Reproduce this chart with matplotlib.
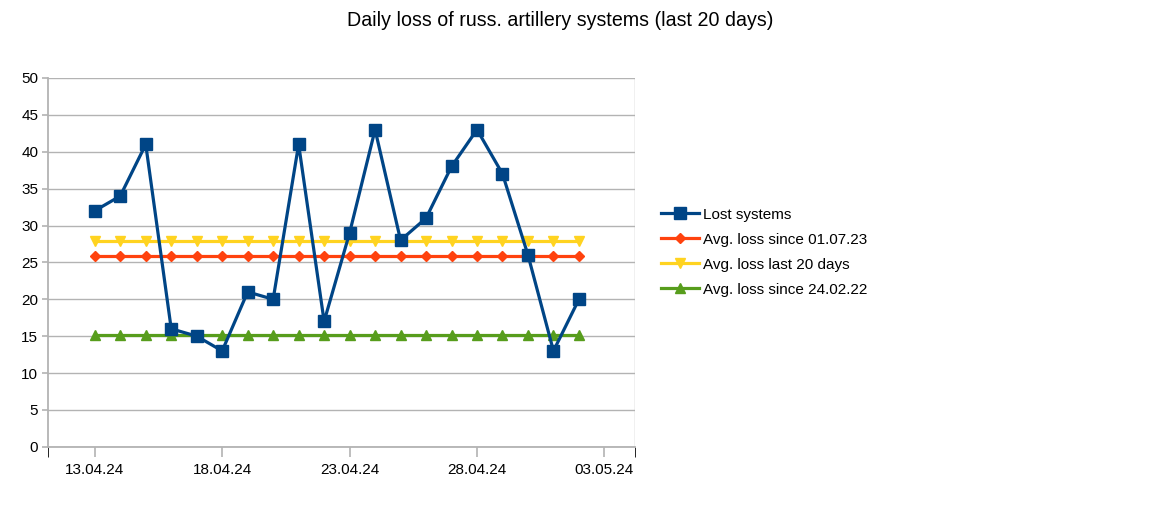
import matplotlib
matplotlib.use("Agg")
import matplotlib.pyplot as plt
import pandas as pd

# data
dates = ["13.04.24", "14.04.24", "15.04.24", "16.04.24", "17.04.24",
         "18.04.24", "19.04.24", "20.04.24", "21.04.24", "22.04.24",
         "23.04.24", "24.04.24", "25.04.24", "26.04.24", "27.04.24",
         "28.04.24", "29.04.24", "30.04.24", "01.05.24", "02.05.24"]
lost = [32, 34, 41, 16, 15, 13, 21, 20, 41, 17,
        29, 43, 28, 31, 38, 43, 37, 26, 13, 20]
avg_since_0107 = 25.8
avg_last_20 = 27.9
avg_since_2402 = 15.1
tick_labels = ["13.04.24", "18.04.24", "23.04.24", "28.04.24", "03.05.24"]

x = pd.to_datetime(dates, format="%d.%m.%y")
ticks = pd.to_datetime(tick_labels, format="%d.%m.%y")
n = len(x)

plt.rcParams["font.family"] = ["Liberation Sans", "DejaVu Sans"]

fig = plt.figure(figsize=(11.72, 5.13), dpi=100)
ax = fig.add_axes([0.041, 0.129, 0.501, 0.719])

ax.plot(x, lost, color="#004586", lw=2.3, marker="s", ms=8.5, zorder=5, label="Lost systems")
ax.plot(x, [avg_since_0107] * n, color="#ff420e", lw=2.3, marker="D", ms=5.5, zorder=4,
        label="Avg. loss since 01.07.23")
ax.plot(x, [avg_last_20] * n, color="#ffd320", lw=2.3, marker="v", ms=7.5, zorder=3,
        label="Avg. loss last 20 days")
ax.plot(x, [avg_since_2402] * n, color="#579d1c", lw=2.3, marker="^", ms=7.5, zorder=3,
        label="Avg. loss since 24.02.22")

left = x[0] - pd.Timedelta(hours=44)
right = ticks[-1] + pd.Timedelta(hours=29)
ax.set_xlim(left, right)
ax.set_ylim(0, 50)
ax.set_yticks(range(0, 51, 5))
ax.set_xticks(ticks)
ax.set_xticklabels(tick_labels)
ax.set_xticks([left, right], minor=True)
ax.yaxis.grid(True, color="#b3b3b3", lw=1)
ax.set_axisbelow(True)

ax.tick_params(axis="both", colors="#b3b3b3", labelcolor="black", labelsize=11, width=1.2)
ax.tick_params(axis="x", which="both", direction="out", length=7, pad=5)
ax.tick_params(axis="y", direction="out", length=4, pad=3)
for side in ("top", "right"):
    ax.spines[side].set_visible(False)
for side in ("left", "bottom"):
    ax.spines[side].set_color("#b3b3b3")
    ax.spines[side].set_linewidth(1.3)
ax.axvline(right, color="#b3b3b3", lw=1)

fig.suptitle("Daily loss of russ. artillery systems (last 20 days)", x=0.478, y=0.978,
             fontsize=14.1)

ax.legend(loc="center left", bbox_to_anchor=(1.033, 0.528), frameon=False, fontsize=11,
          handlelength=2.5, handletextpad=0.25, labelspacing=0.72, borderaxespad=0)

fig.savefig("out.png", dpi=100, facecolor="white")
